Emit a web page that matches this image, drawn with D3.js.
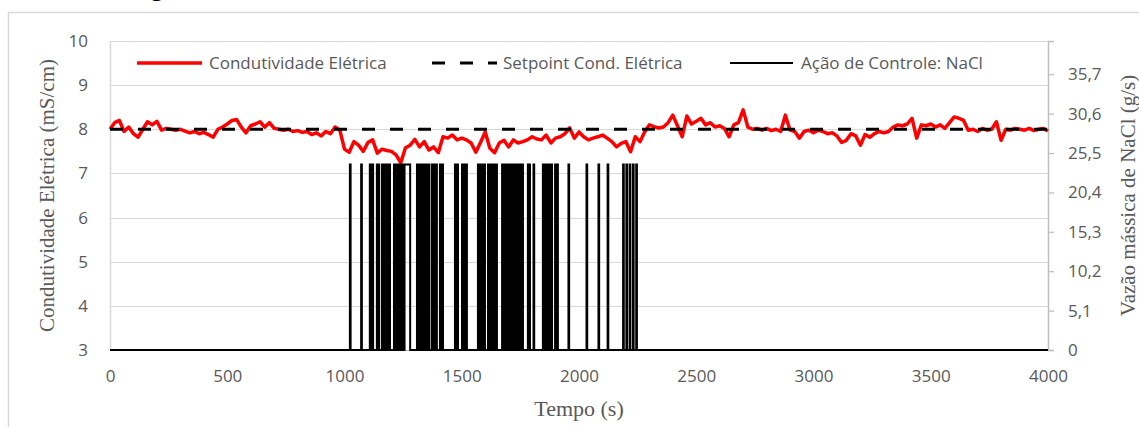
<!DOCTYPE html>
<html><head><meta charset="utf-8">
<script src="https://cdn.jsdelivr.net/npm/d3@7"></script>
<style>body{margin:0;background:#fff}svg{display:block}</style>
</head><body>
<svg id="chart" width="1139" height="427"></svg>
<script>
// ---------- DATA ----------
const condStart = 0, condStep = 20;
const condValues = [
  8.00,8.15,8.20,7.95,8.05,7.90,7.82,8.00,8.17,8.10,
  8.18,7.98,8.02,8.00,7.98,8.00,7.96,7.92,7.95,7.90,
  7.93,7.88,7.82,8.00,8.05,8.12,8.20,8.22,8.05,7.92,
  8.08,8.12,8.17,8.05,8.15,8.02,8.00,7.98,8.00,7.95,
  7.97,7.93,7.95,7.88,7.92,7.85,7.95,7.90,8.05,7.98,
  7.55,7.48,7.72,7.64,7.50,7.70,7.76,7.46,7.55,7.52,
  7.50,7.42,7.24,7.58,7.64,7.77,7.60,7.72,7.53,7.60,
  7.47,7.83,7.80,7.87,7.76,7.80,7.76,7.69,7.48,7.70,
  7.94,7.57,7.47,7.69,7.75,7.60,7.76,7.69,7.72,7.76,
  7.83,7.78,7.76,7.87,7.69,7.80,7.83,7.90,8.03,7.80,
  7.94,7.83,7.76,7.80,7.83,7.87,7.80,7.72,7.60,7.68,
  7.72,7.49,7.83,7.72,7.94,8.10,8.06,8.03,8.05,8.15,
  8.32,8.08,7.83,8.30,8.12,8.18,8.25,8.10,8.15,8.05,
  8.08,8.02,7.83,8.10,8.15,8.44,8.05,8.00,8.02,7.98,
  8.02,7.97,8.00,7.95,8.32,7.98,7.95,7.80,7.95,7.98,
  7.92,7.98,7.95,7.90,7.92,7.85,7.70,7.75,7.90,7.85,
  7.64,7.88,7.82,7.90,7.95,7.92,7.95,8.05,8.10,8.08,
  8.12,8.25,7.80,8.10,8.08,8.12,8.05,8.10,8.02,8.15,
  8.28,8.25,8.20,7.98,8.00,7.95,8.02,7.98,8.00,8.17,
  7.75,8.00,7.98,8.02,8.00,7.98,8.02,7.97,8.00,8.02,
  7.96
];
const setpointTime = [0, 4000];
const setpointValue = [8, 8];

// NaCl control action: intervals [on, off] in seconds where the pump is at naclHigh g/s
const naclHigh = 24;
const naclPulses = [
  [1023,1026],[1071,1074],[1108,1111],[1119,1122],[1138,1141],[1145,1148],
  [1160,1163],[1168,1171],[1176,1179],[1184,1187],[1191,1194],
  [1211,1214],[1219,1222],[1227,1230],[1235,1238],[1244,1249],[1256,1280],
  [1309,1312],[1317,1320],[1325,1328],[1333,1336],[1341,1344],[1349,1352],[1358,1362],
  [1373,1376],[1381,1384],[1390,1394],[1407,1410],[1416,1420],
  [1471,1474],[1481,1484],[1501,1504],[1510,1513],[1519,1522],
  [1569,1572],[1577,1580],[1585,1588],[1594,1599],
  [1612,1615],[1620,1623],[1628,1631],[1636,1639],[1645,1650],
  [1672,1675],[1680,1683],[1688,1691],[1696,1699],[1703,1706],
  [1714,1717],[1722,1725],[1730,1733],[1738,1741],[1746,1749],[1755,1761],
  [1782,1785],[1789,1791],[1806,1809],[1846,1849],[1856,1859],[1862,1864],
  [1869,1872],[1880,1885],[1898,1901],[1907,1910],[1955,1958],
  [2032,2035],[2083,2086],[2122,2125],[2188,2191],[2202,2205],
  [2216,2219],[2230,2233],[2244,2247]
];
const tEnd = 4000;

const xTicks = [0,500,1000,1500,2000,2500,3000,3500,4000];
const yLeftTicks = [3,4,5,6,7,8,9,10];
const yRightTicks = [0,5.1,10.2,15.3,20.4,25.5,30.6,35.7];
const yRightLabels = ["0","5,1","10,2","15,3","20,4","25,5","30,6","35,7"];

const legendNames = ["Condutividade Elétrica","Setpoint Cond. Elétrica","Ação de Controle: NaCl"];
const titleX = "Tempo (s)";
const titleYLeft = "Condutividade Elétrica (mS/cm)";
const titleYRight = "Vazão mássica de NaCl (g/s)";

// ---------- CHART ----------
const svg = d3.select("#chart");
const L = 110, R = 1048, T = 41, B = 350;
const x = d3.scaleLinear().domain([0,4000]).range([L,R]);
const yL = d3.scaleLinear().domain([3,10]).range([B,T]);
const yR = d3.scaleLinear().domain([0,40]).range([B,T]);
const tickFont = "'Open Sans', sans-serif";
const serif = "'Liberation Serif','Times New Roman',serif";
const gray = "#595959";

svg.append("rect").attr("width",1139).attr("height",427).attr("fill","#fff");
// caption fragment at the very top (cropped in the original)
svg.append("text").attr("x",151).attr("y",-4).attr("font-family",tickFont)
  .attr("font-size",22).attr("fill","#000").text("g");
// chart area border
svg.append("rect").attr("x",8.5).attr("y",12.5).attr("width",1200).attr("height",500)
  .attr("fill","none").attr("stroke","#d9d9d9").attr("stroke-width",1.5);

// gridlines
svg.append("g").selectAll("line").data(yLeftTicks).join("line")
  .attr("x1",L).attr("x2",R).attr("y1",d=>Math.round(yL(d))+0.5).attr("y2",d=>Math.round(yL(d))+0.5)
  .attr("stroke","#d9d9d9").attr("stroke-width",1.2);

// left axis
const gL = svg.append("g").attr("transform",`translate(${L},0)`)
  .call(d3.axisLeft(yL).tickValues(yLeftTicks).tickSize(0).tickPadding(22).tickFormat(d3.format("d")));
gL.select(".domain").attr("stroke","#d9d9d9").attr("stroke-width",1.5);
gL.selectAll("text").attr("font-family",tickFont).attr("font-size",17).attr("fill",gray);

// right axis
const gR = svg.append("g").attr("transform",`translate(${R},0)`)
  .call(d3.axisRight(yR).tickValues(yRightTicks).tickSize(6).tickPadding(14)
    .tickFormat((d,i)=>yRightLabels[i]));
gR.select(".domain").attr("stroke","#bfbfbf").attr("stroke-width",1.5);
gR.selectAll(".tick line").attr("stroke","#bfbfbf").attr("stroke-width",1.2);
gR.selectAll("text").attr("font-family",tickFont).attr("font-size",17).attr("fill",gray);

// bottom axis
const gB = svg.append("g").attr("transform",`translate(0,${B})`)
  .call(d3.axisBottom(x).tickValues(xTicks).tickSize(0).tickPadding(20).tickFormat(d3.format("d")));
gB.select(".domain").attr("stroke","#bfbfbf");
gB.selectAll("text").attr("font-family",tickFont).attr("font-size",17).attr("fill",gray);

// NaCl control action points
const naclPts = [[0,0]];
naclPulses.forEach(([a,b])=>{ naclPts.push([a,0],[a,naclHigh],[b,naclHigh],[b,0]); });
naclPts.push([tEnd,0]);
// conductivity
const condPts = condValues.map((v,i)=>[condStart+i*condStep, v]);
svg.append("path").datum(condPts)
  .attr("d", d3.line().x(d=>x(d[0])).y(d=>yL(d[1])))
  .attr("fill","none").attr("stroke","#ff0000").attr("stroke-width",3.5).attr("stroke-linejoin","round");
// setpoint
svg.append("path").datum(setpointTime.map((t,i)=>[t,setpointValue[i]]))
  .attr("d", d3.line().x(d=>x(d[0])).y(d=>yL(d[1])))
  .attr("fill","none").attr("stroke","#000").attr("stroke-width",3).attr("stroke-dasharray","13,15");
// NaCl
svg.append("path").datum(naclPts)
  .attr("d", d3.line().x(d=>x(d[0])).y(d=>yR(d[1])))
  .attr("fill","none").attr("stroke","#000").attr("stroke-width",2);

// legend
const legend = [
  {x1:137,x2:202,tx:209,color:"#ff0000",w:3.5,dash:null},
  {x1:432,x2:497,tx:503,color:"#000",w:3,dash:"13,15"},
  {x1:730,x2:793,tx:801,color:"#000",w:2,dash:null}
];
const ly = 63;
legend.forEach((e,i)=>{
  svg.append("line").attr("x1",e.x1).attr("x2",e.x2).attr("y1",ly).attr("y2",ly)
    .attr("stroke",e.color).attr("stroke-width",e.w).attr("stroke-dasharray",e.dash);
  svg.append("text").attr("x",e.tx).attr("y",ly).attr("dy","0.35em")
    .attr("font-family",tickFont).attr("font-size",17).attr("fill",gray).text(legendNames[i]);
});

// axis titles
svg.append("text").attr("transform",`translate(47,${(T+B)/2}) rotate(-90)`)
  .attr("text-anchor","middle").attr("dy","0.35em")
  .attr("font-family",serif).attr("font-size",21).attr("fill",gray).text(titleYLeft);
svg.append("text").attr("transform",`translate(1128,${(T+B)/2}) rotate(-90)`)
  .attr("text-anchor","middle").attr("dy","0.35em")
  .attr("font-family",serif).attr("font-size",21).attr("fill",gray).text(titleYRight);
svg.append("text").attr("x",(L+R)/2).attr("y",408).attr("dy","0.35em")
  .attr("text-anchor","middle")
  .attr("font-family",serif).attr("font-size",22).attr("fill",gray).text(titleX);
</script>
</body></html>
